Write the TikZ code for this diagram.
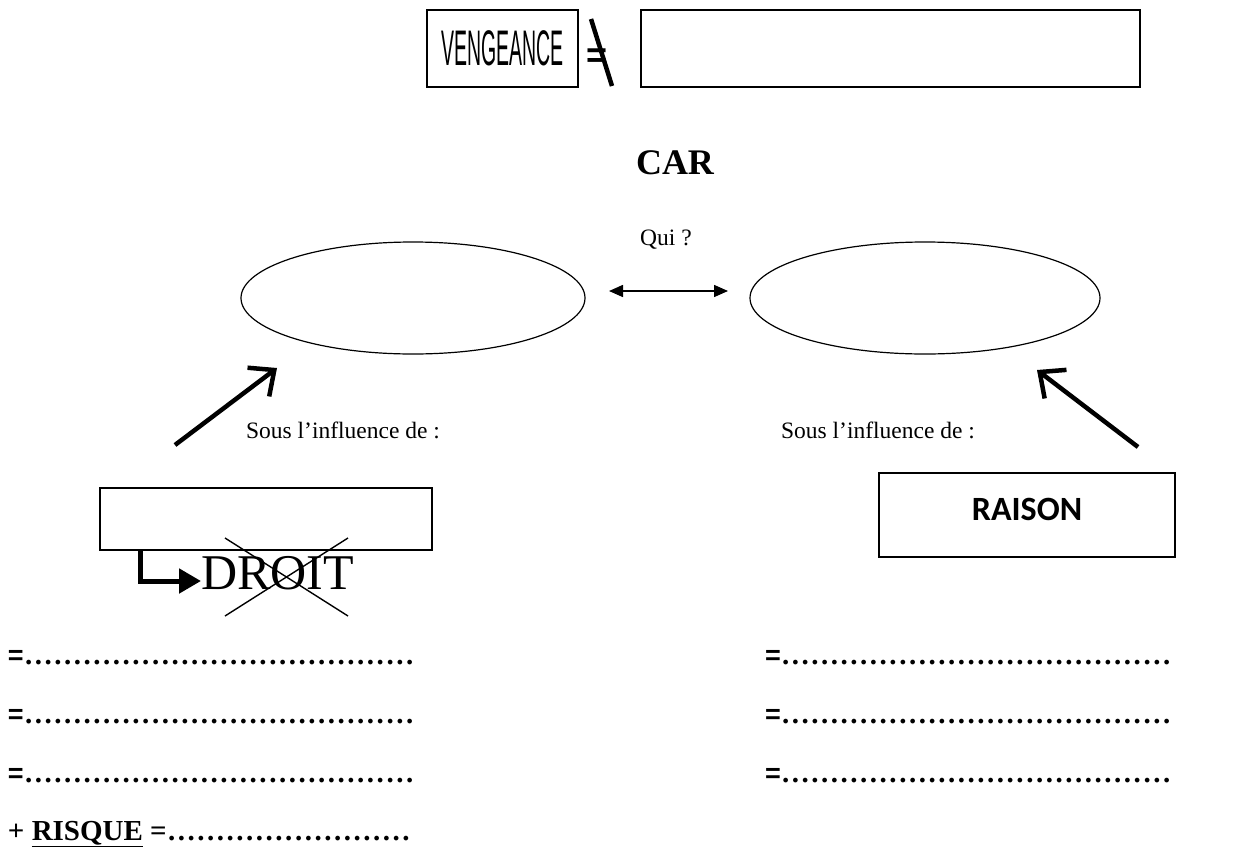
\documentclass[tikz,border=0pt]{standalone}
\usepackage{fontspec}
\usepackage{graphicx}
\usepackage{tikz}
\usetikzlibrary{positioning,arrows.meta,shapes.geometric}
\newfontfamily\narrowsans{Liberation Sans}
\newfontfamily\calsans{Carlito}
\newfontfamily\timesserif{Liberation Serif}
\newcommand\fillrow[1]{\foreach \k in {1,...,#1}{\makebox[9.77pt]{.}}}
\newcommand\eqsign{{\narrowsans\fontsize{27}{30}\selectfont=}}
\tikzset{
  every node/.style={inner sep=0pt, outer sep=0pt},
  framebox/.style={rectangle, draw, line width=1.4pt},
  bubble/.style={ellipse, draw, line width=1.2pt, minimum height=112pt},
  bigarrow/.style={-{Straight Barb[length=20pt,width=36pt]}, line width=4.5pt},
  dblarrow/.style={{Triangle[length=14pt,width=12pt]}-{Triangle[length=14pt,width=12pt]}, line width=1.5pt},
  elbow/.style={-{Triangle[length=22pt,width=24pt]}, line width=5pt, line join=miter},
  infotext/.style={font=\timesserif\fontsize{23.5}{27}\selectfont},
  rowtext/.style={anchor=base west, font=\timesserif\bfseries\fontsize{29}{32}\selectfont},
}
\begin{document}
\begin{tikzpicture}[x=1pt,y=-1pt]
  \useasboundingbox (0,0) rectangle (1235,849);
  \node[framebox, minimum width=151pt, minimum height=77pt] (veng) at (502.5,48.5)
    {\narrowsans\fontsize{50}{52}\selectfont\scalebox{0.39}[1]{VENGEANCE}};
  \node[font=\narrowsans\bfseries\fontsize{36}{38}\selectfont] (neq) at (597,58) {=};
  \draw[line width=4.5pt] (591,19) -- (612,86);
  \node[framebox, minimum width=499pt, minimum height=77pt] (blank) at (890.5,48.5) {};

  \node[font=\timesserif\bfseries\fontsize{36}{40}\selectfont] (car) at (675,163) {CAR};
  \node[infotext, anchor=base] (qui) at (666,245) {Qui ?};

  \node[bubble, minimum width=344pt] (lell) at (413,298) {};
  \node[bubble, minimum width=350pt] (rell) at (925,298) {};
  \draw[dblarrow, shorten <=24pt, shorten >=22pt] ([yshift=7pt]lell.east) -- ([yshift=7pt]rell.west);

  \coordinate (ltail) at (175,445);
  \coordinate (ltip) at (277,368);
  \coordinate (rtail) at (1138,447);
  \coordinate (rtip) at (1037,370);
  \draw[bigarrow] (ltail) -- (ltip);
  \draw[bigarrow] (rtail) -- (rtip);

  \node[infotext, anchor=base] (linfl) at (343,438) {Sous l’influence de :};
  \node[infotext, anchor=base] (rinfl) at (878,438) {Sous l’influence de :};

  \node[framebox, minimum width=332pt, minimum height=62pt] (lbox) at (266,519) {};
  \node[framebox, minimum width=296pt, minimum height=84pt] (rbox) at (1027,515) {};
  \node[font=\calsans\bfseries\fontsize{34}{38}\selectfont] (raison) at ([yshift=6pt]rbox.center) {RAISON};

  \node[anchor=base west, font=\timesserif\fontsize{50}{52}\selectfont] (droit) at (201,589) {DROIT};
  \draw[elbow] ([xshift=-126pt]lbox.south) |- ([yshift=8pt]droit.base west);
  \draw[line width=1.4pt] (225,538) -- (348,616) (348,538) -- (225,616);

  \node[rowtext] (l1) at (8,664) {\eqsign\fillrow{40}};
  \node[rowtext] (l2) at (8,723) {\eqsign\fillrow{40}};
  \node[rowtext] (l3) at (8,782) {\eqsign\fillrow{40}};
  \node[rowtext] (r1) at (765,664) {\eqsign\fillrow{40}};
  \node[rowtext] (r2) at (765,723) {\eqsign\fillrow{40}};
  \node[rowtext] (r3) at (765,782) {\eqsign\fillrow{40}};
  \node[rowtext] (risk) at (8,840) {+ \underline{RISQUE} =\fillrow{25}};
\end{tikzpicture}
\end{document}
